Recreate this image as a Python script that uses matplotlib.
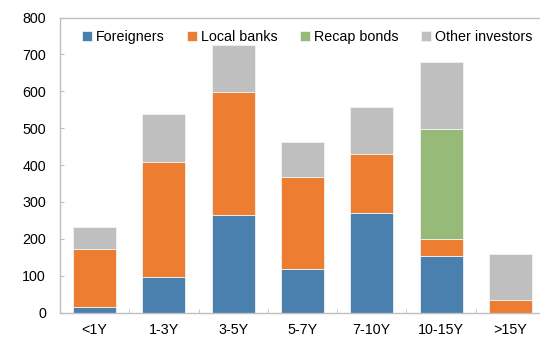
import numpy as np
import matplotlib
matplotlib.use('Agg')
import matplotlib.pyplot as plt

plt.rcParams['font.family'] = ['Liberation Sans', 'DejaVu Sans']

# Holdings by remaining tenor, stacked by investor type
tenors = ['<1Y', '1-3Y', '3-5Y', '5-7Y', '7-10Y', '10-15Y', '>15Y']
foreigners = [15, 97, 265, 118, 269, 155, 0]
local_banks = [158, 312, 333, 249, 162, 45, 35]
recap_bonds = [0, 0, 0, 0, 0, 298, 0]
other_investors = [59, 129, 127, 96, 126, 181, 123]

series = [
    ('Foreigners', foreigners, '#4a80ae'),
    ('Local banks', local_banks, '#ed7d31'),
    ('Recap bonds', recap_bonds, '#97ba78'),
    ('Other investors', other_investors, '#bfbfbf'),
]

fig = plt.figure(figsize=(5.40, 3.39), dpi=100)
ax = fig.add_axes([60 / 540, 1 - 312.7 / 339, 485 / 540, 295.2 / 339])

x = np.arange(len(tenors))
bottom = np.zeros(len(tenors))
for name, vals, color in series:
    vals = np.array(vals, dtype=float)
    ax.bar(x, vals, bottom=bottom, width=0.62, color=color, label=name,
           edgecolor='#f2f2f2', linewidth=0.6, zorder=2)
    bottom += vals

ax.set_xlim(-0.5, len(tenors) - 0.5)
ax.set_ylim(0, 800)
ax.set_yticks(range(0, 801, 100))
ax.set_xticks(x)
ax.set_xticklabels(tenors)
ax.set_xticks(x[:-1] + 0.5, minor=True)

for side in ['left', 'right', 'top', 'bottom']:
    ax.spines[side].set_color('#bfbfbf')
    ax.spines[side].set_linewidth(1.0)

ax.tick_params(axis='y', direction='in', length=3, color='#bfbfbf',
               labelsize=10.3, pad=10, labelcolor='black')
ax.tick_params(axis='x', which='major', length=0, labelsize=10.3, pad=7.5)
ax.tick_params(axis='x', which='minor', direction='in', length=3, color='#bfbfbf')

ax.legend(loc='upper left', bbox_to_anchor=(0.018, 1.0), ncol=4, frameon=False,
          fontsize=10.3, handlelength=0.7, handleheight=0.7, handletextpad=0.3,
          columnspacing=1.55, borderaxespad=0.5)

fig.savefig('out.png', dpi=100)
